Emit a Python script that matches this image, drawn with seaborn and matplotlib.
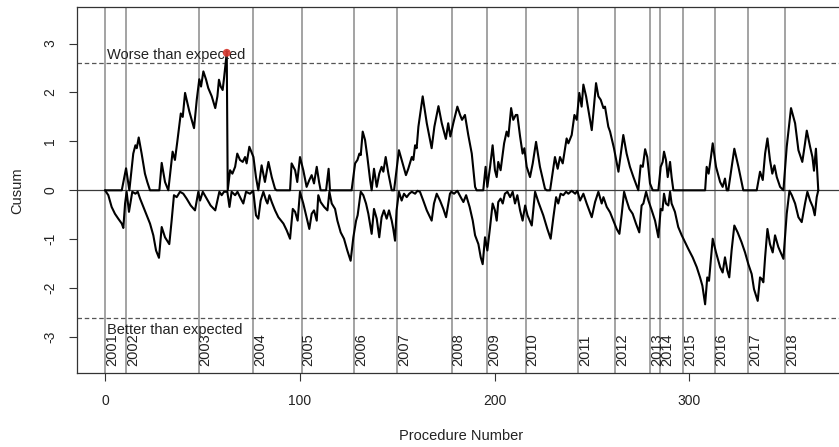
import matplotlib
matplotlib.use("Agg")
import matplotlib.pyplot as plt
import pandas as pd
import seaborn as sns

# Upper CUSUM (worse than expected): turning points, procedure number -> value
upper_proc = [0, 8.6, 10.8, 12.5, 14.5, 15.6, 16.3, 17.3, 18.8, 20.5, 21.7, 23.1, 27.9, 29.1, 30.8, 32.5,
              34.7, 35.9, 37.1, 38.9, 39.9, 41.1, 42.3, 43.3, 44.5, 45.7, 47.1, 48.4, 49.3, 50.5, 51.9,
              53.0, 54.8, 56.6, 57.7, 58.5, 59.4, 60.4, 61.1, 62.5, 63.0, 64.2, 65.4, 66.8, 67.9, 69.3,
              70.7, 71.9, 72.7, 74.1, 76.2, 77.5, 78.7, 80.4, 82.1, 83.9, 85.6, 87.3, 88.1, 95.0, 95.8,
              97.6, 98.7, 100.1, 101.8, 103.5, 104.9, 106.1, 107.3, 108.7, 109.9, 110.7, 113.5, 114.8,
              115.5, 126.6, 128.4, 129.6, 130.6, 131.3, 132.3, 133.5, 134.7, 136.1, 136.9, 138.1, 139.5,
              140.8, 142.0, 142.9, 144.1, 145.5, 147.2, 148.4, 150.9, 152.3, 154.5, 155.7, 157.5, 158.3,
              159.2, 160.0, 160.9, 163.1, 165.2, 167.7, 169.1, 171.2, 172.9, 175.0, 176.2, 177.3, 178.8,
              180.9, 182.3, 183.3, 184.8, 186.5, 188.3, 190.0, 190.8, 194.2, 195.4, 196.3, 197.7, 199.0,
              200.2, 201.1, 201.9, 203.1, 204.9, 206.2, 207.1, 208.5, 209.6, 210.9, 211.7, 213.1, 214.4,
              215.3, 216.5, 218.2, 219.6, 221.3, 223.3, 225.9, 226.8, 228.5, 231.0, 232.4, 233.6, 235.0,
              237.0, 237.9, 239.6, 241.0, 242.2, 243.5, 244.7, 245.6, 247.0, 248.2, 249.9, 250.7, 252.1,
              253.3, 254.5, 255.9, 256.7, 258.4, 259.3, 261.3, 263.6, 266.1, 267.8, 269.5, 271.3, 273.8,
              275.0, 276.1, 277.3, 278.4, 279.8, 281.2, 284.1, 285.3, 286.3, 287.0, 288.0, 288.9, 290.1,
              290.9, 291.8, 308.1, 308.9, 309.9, 311.0, 312.0, 313.7, 315.8, 317.1, 318.3, 319.2, 320.0,
              323.1, 325.2, 327.7, 334.6, 336.3, 337.7, 338.9, 340.1, 341.4, 342.6, 343.7, 344.9, 346.6,
              348.3, 350.0, 352.2, 354.3, 356.0, 358.0, 359.4, 360.3, 362.0, 363.2, 364.0, 365.0, 366.2]
upper_cusum = [0, 0, 0.45, 0, 0.75, 0.92, 0.86, 1.08, 0.75, 0.34, 0.17, 0, 0, 0.56, 0.17, 0,
               0.79, 0.62, 0.99, 1.57, 1.50, 1.99, 1.78, 1.61, 1.44, 1.27, 1.85, 2.27, 2.12, 2.43, 2.26,
               2.09, 1.92, 1.68, 1.92, 2.26, 2.12, 2.05, 2.29, 2.81, 0, 0.41, 0.34, 0.48, 0.75, 0.62,
               0.58, 0.68, 0.55, 0.89, 0.68, 0.27, 0, 0.51, 0.17, 0.58, 0.27, 0.03, 0, 0, 0.55,
               0.41, 0.17, 0.68, 0.41, 0.07, 0.21, 0.31, 0.14, 0.48, 0.17, 0, 0, 0.44,
               0, 0, 0.55, 0.62, 0.75, 0.72, 1.20, 1.03, 0.68, 0.21, 0, 0.44, 0.07,
               0.34, 0.48, 0.38, 0.68, 0.34, 0, 0, 0.82, 0.62, 0.31, 0.44, 0.68, 0.62,
               0.92, 0.86, 1.30, 1.92, 1.37, 0.86, 1.30, 1.72, 1.37, 1.05, 1.37, 1.10, 1.37,
               1.71, 1.54, 1.44, 1.54, 1.13, 0.75, 0.07, 0, 0, 0.48, 0.07, 0.48, 0.92,
               0.41, 0.27, 0.58, 0.41, 0.96, 1.20, 1.10, 1.68, 1.44, 1.54, 1.54, 1.10, 0.75,
               0.86, 0.48, 0.27, 0.55, 0.99, 0.48, 0.03, 0, 0, 0.68, 0.44, 0.68, 0.55,
               1.06, 0.96, 1.13, 1.54, 1.44, 1.99, 1.71, 2.16, 1.92, 1.64, 1.23, 1.57, 2.19,
               1.92, 1.85, 1.68, 1.71, 1.30, 1.20, 0.86, 0.38, 1.13, 0.75, 0.48, 0.27, 0,
               0.51, 0.48, 0.84, 0.68, 0.14, 0, 0, 0.48, 0.58, 0.79, 0.62, 0.27, 0.58,
               0.27, 0, 0, 0.48, 0.34, 0.65, 0.96, 0.48, 0.17, 0.07, 0.24, 0, 0,
               0.85, 0.48, 0, 0, 0.38, 0.21, 0.75, 1.06, 0.62, 0.34, 0.51, 0.27, 0.07,
               0, 0.89, 1.68, 1.37, 0.82, 0.58, 0.96, 1.22, 0.89, 0.68, 0.40, 0.85, 0]

# Lower CUSUM (better than expected): turning points, procedure number -> value
lower_proc = [0, 1.7, 3.4, 5.1, 6.8, 8.6, 9.4, 10.3, 11.1, 12.3, 14.0, 15.6, 16.8, 18.0, 19.7, 21.4,
              23.1, 24.8, 26.2, 27.7, 29.1, 30.8, 33.0, 34.2, 35.4, 36.8, 38.5, 40.2, 41.9, 44.0, 46.2,
              47.9, 48.8, 50.2, 52.2, 54.2, 56.6, 58.7, 59.9, 61.1, 62.8, 63.9, 65.0, 66.8, 68.0, 69.7,
              71.0, 72.4, 74.4, 76.1, 77.5, 78.7, 79.9, 81.3, 82.7, 83.4, 84.4, 85.6, 87.3, 89.0, 91.6,
              93.3, 95.0, 96.4, 97.6, 98.9, 100.1, 101.8, 103.5, 104.9, 106.1, 107.3, 108.7, 109.5,
              110.7, 112.5, 114.2, 115.2, 116.4, 118.1, 119.3, 121.0, 122.7, 124.4, 126.1, 127.5, 128.9,
              129.7, 131.3, 132.6, 134.0, 135.2, 136.9, 138.1, 139.5, 140.8, 142.0, 143.2, 144.6, 145.8,
              147.2, 148.0, 148.9, 149.7, 150.9, 152.3, 153.5, 154.9, 156.2, 157.5, 159.2, 160.4, 161.7,
              163.4, 165.2, 167.7, 168.9, 170.3, 172.0, 173.7, 175.1, 176.3, 177.1, 177.8, 179.2, 180.9,
              182.6, 184.0, 185.4, 187.2, 188.8, 190.0, 191.7, 192.9, 193.9, 195.1, 196.3, 197.7, 199.0,
              200.2, 201.1, 201.9, 203.1, 204.2, 205.3, 206.6, 208.0, 209.3, 210.5, 211.7, 213.1, 214.4,
              215.7, 216.9, 219.1, 220.8, 222.5, 225.0, 227.1, 228.8, 230.2, 231.6, 232.7, 233.9, 235.3,
              236.7, 237.9, 239.6, 241.4, 242.5, 243.9, 245.6, 247.3, 249.9, 251.6, 253.3, 255.0, 255.9,
              257.6, 259.3, 261.0, 262.7, 264.1, 265.3, 266.5, 267.8, 269.2, 270.9, 272.6, 274.3, 275.5,
              276.4, 277.8, 279.0, 280.7, 282.4, 284.1, 285.3, 286.2, 287.0, 288.0, 289.2, 290.1, 290.9,
              292.6, 294.3, 296.1, 297.8, 299.5, 301.7, 303.8, 305.5, 306.7, 308.1, 309.2, 310.1, 311.0,
              312.0, 313.7, 315.8, 317.1, 318.3, 319.5, 320.5, 321.7, 323.1, 324.8, 326.8, 328.6, 330.3,
              332.0, 333.2, 335.1, 336.3, 337.1, 338.0, 338.9, 340.1, 341.4, 342.8, 344.0, 345.7, 346.9,
              348.3, 350.0, 351.4, 352.6, 354.3, 356.0, 357.7, 359.4, 360.6, 362.0, 363.4, 364.4, 365.4,
              366.2]
lower_cusum = [0, -0.10, -0.34, -0.48, -0.58, -0.68, -0.77, -0.27, -0.03, -0.44, -0.03, -0.07, -0.03, -0.17, -0.34, -0.51,
               -0.68, -0.92, -1.23, -1.38, -0.75, -0.96, -1.10, -0.62, -0.10, -0.14, -0.03, -0.07, -0.17, -0.31, -0.41,
               -0.03, -0.21, -0.03, -0.17, -0.31, -0.41, -0.03, -0.10, -0.03, -0.03, -0.34, -0.03, -0.10, -0.03, -0.17,
               -0.27, -0.03, -0.07, -0.01, -0.51, -0.58, -0.21, -0.03, -0.21, -0.27, -0.10, -0.24, -0.41, -0.55, -0.68,
               -0.82, -0.99, -0.38, -0.44, -0.62, -0.03, -0.27, -0.55, -0.79, -0.48, -0.41, -0.62, -0.10,
               -0.24, -0.34, -0.41, -0.03, -0.27, -0.38, -0.62, -0.86, -0.99, -1.23, -1.44, -0.96, -0.62,
               -0.51, -0.03, -0.10, -0.27, -0.48, -0.89, -0.38, -0.58, -0.96, -0.55, -0.41, -0.58, -0.41,
               -0.62, -0.79, -1.03, -0.41, -0.03, -0.21, -0.07, -0.14, -0.07, -0.03, -0.07, -0.01, -0.03,
               -0.21, -0.41, -0.62, -0.27, -0.07, -0.21, -0.38, -0.55, -0.27, -0.07, -0.03, -0.07, -0.01,
               -0.14, -0.24, -0.10, -0.34, -0.62, -0.92, -1.10, -1.37, -1.51, -0.96, -1.23, -0.75, -0.27,
               -0.41, -0.62, -0.24, -0.17, -0.27, -0.07, -0.03, -0.14, -0.03, -0.27, -0.10, -0.41, -0.62,
               -0.31, -0.51, -0.72, -0.03, -0.24, -0.51, -0.79, -0.99, -0.55, -0.14, -0.27, -0.07, -0.10,
               -0.03, -0.07, -0.01, -0.07, -0.01, -0.21, -0.07, -0.27, -0.55, -0.24, -0.03, -0.27, -0.14,
               -0.34, -0.45, -0.62, -0.79, -0.89, -0.48, -0.03, -0.21, -0.38, -0.48, -0.68, -0.86, -0.31,
               -0.27, -0.03, -0.21, -0.41, -0.62, -0.96, -0.38, -0.41, -0.07, -0.27, -0.31, -0.03, -0.27,
               -0.44, -0.75, -0.92, -1.06, -1.20, -1.37, -1.57, -1.78, -1.95, -2.33, -1.78, -1.85, -1.44,
               -0.99, -1.27, -1.57, -1.68, -1.37, -1.64, -1.78, -1.23, -0.72, -0.86, -1.06, -1.27, -1.51,
               -1.71, -2.02, -2.26, -1.78, -1.81, -1.88, -1.37, -0.79, -1.10, -1.27, -0.92, -1.16, -1.27,
               -1.40, -0.48, -0.01, -0.10, -0.27, -0.55, -0.65, -0.27, -0.03, -0.21, -0.34, -0.51, -0.14,
               0]

# First procedure of each calendar year
year_start = [0, 11, 48, 76, 101, 128, 150, 178, 196, 216, 243, 262, 280, 285, 297, 313, 330, 349]
year_labels = ["2001", "2002", "2003", "2004", "2005", "2006", "2007", "2008", "2009",
               "2010", "2011", "2012", "2013", "2014", "2015", "2016", "2017", "2018"]

control_limit = 2.6
signal_proc = [62.5]
signal_value = [2.81]

x_ticks = [0, 100, 200, 300]
y_ticks = [-3, -2, -1, 0, 1, 2, 3]

sns.set_style("ticks")
plt.rcParams["font.family"] = ["Liberation Sans", "DejaVu Sans"]

W, H = 839, 447
fig = plt.figure(figsize=(W / 100, H / 100), dpi=100)
ax = fig.add_axes([76.5 / W, 1 - 373.3 / H, 769.9 / W, 366.0 / H])

for yr in year_start:
    ax.axvline(yr, color="#9c9c9c", lw=1.3, zorder=1)
ax.axhline(0, color="#3a3a3a", lw=0.9, zorder=2)
for lim in (control_limit, -control_limit):
    ax.axhline(lim, color="#555555", lw=0.9, dashes=(3.6, 2.2), zorder=2)

upper_df = pd.DataFrame({"proc": upper_proc, "cusum": upper_cusum})
lower_df = pd.DataFrame({"proc": lower_proc, "cusum": lower_cusum})
for df in (upper_df, lower_df):
    sns.lineplot(data=df, x="proc", y="cusum", estimator=None, sort=False,
                 color="black", lw=1.5, ax=ax, zorder=3)

sns.scatterplot(x=signal_proc, y=signal_value, color="#d9382f", s=32,
                edgecolor="none", alpha=0.9, ax=ax, zorder=5)

for yr, lab in zip(year_start, year_labels):
    ax.text(yr, -3.6, lab, rotation=90, ha="left", va="bottom", fontsize=10.5,
            color="#222222", zorder=4)

ax.text(1, 2.68, "Worse than expected", va="baseline", ha="left", fontsize=10.5,
        color="#222222", zorder=4)
ax.text(1, -2.94, "Better than expected", va="baseline", ha="left", fontsize=10.5,
        color="#222222", zorder=4)

ax.set_xlim(-14.64, 380.64)
ax.set_ylim(-3.74, 3.74)
ax.set_xticks(x_ticks)
ax.set_yticks(y_ticks)
ax.set_xticklabels([str(t) for t in x_ticks])
ax.set_yticklabels([str(t) for t in y_ticks])
ax.tick_params(axis="both", length=6, width=0.8, labelsize=10, color="#333333",
               labelcolor="#222222")
ax.tick_params(axis="x", pad=9)
ax.tick_params(axis="y", pad=8)
plt.setp(ax.get_yticklabels(), rotation=90, va="center")

for side in ("left", "bottom", "top", "right"):
    ax.spines[side].set_color("#333333")
    ax.spines[side].set_linewidth(0.9)

ax.set_xlabel("Procedure Number", fontsize=10.5, color="#222222")
ax.set_ylabel("Cusum", fontsize=10.5, color="#222222")
ax.xaxis.set_label_coords(0.5, -0.152)
ax.yaxis.set_label_coords((17 - 76.5) / 769.9, 0.5)
ax.yaxis.label.set_va("center")

fig.savefig("out.png", dpi=100, facecolor="white")
